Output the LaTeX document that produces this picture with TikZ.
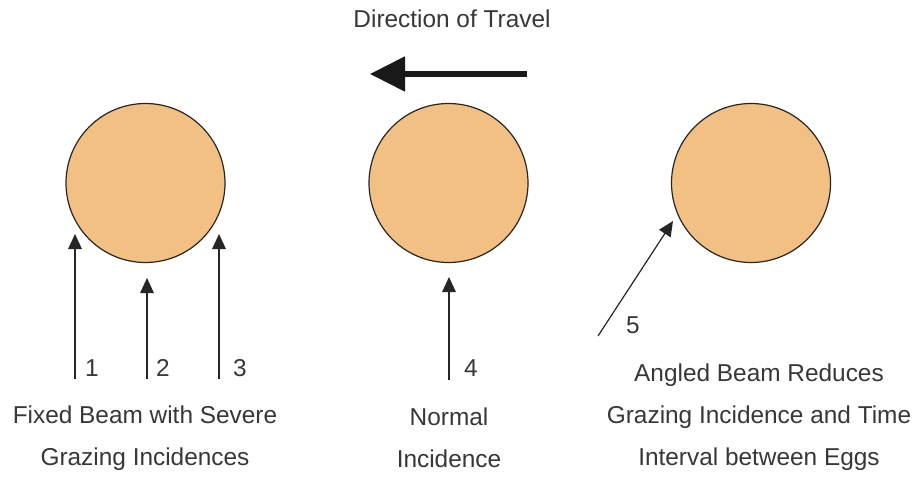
\documentclass[tikz,border=0pt]{standalone}
\usepackage{fontspec}
\setmainfont{Liberation Sans}
\usepackage{tikz}
\usetikzlibrary{arrows.meta,positioning}
\definecolor{eggfill}{RGB}{242,192,130}
\definecolor{inkgray}{RGB}{55,55,55}

\begin{document}
\begin{tikzpicture}[x=0.5pt, y=-0.5pt,
  egg/.style={circle, draw=black!85, line width=0.6pt, fill=eggfill, minimum size=79.5pt, inner sep=0pt},
  beam/.style={draw=black!85, line width=0.6pt, -{Triangle[length=7.5pt,width=6.8pt]}},
  travel/.style={draw=black!90, line width=2.6pt, -{Triangle[length=17.5pt,width=17pt]}},
  num/.style={font=\fontsize{12.2pt}{14pt}\selectfont, text=inkgray, inner sep=1pt},
  caption/.style={font=\fontsize{12.2pt}{21pt}\selectfont, text=inkgray, align=center, inner sep=0pt}]
  \useasboundingbox (0,0) rectangle (919,476);
  % title and direction arrow
  \node[num] (title) at (452,19) {Direction of Travel};
  \coordinate (dstart) at (527,74);
  \coordinate (dend) at (370,74);
  \draw[travel] (dstart) -- (dend);
  % the three eggs
  \node[egg] (egga) at (145.5,183) {};
  \node[egg] (eggb) at (448.5,183) {};
  \node[egg] (eggc) at (751,183) {};
  % fixed beams 1-3
  \coordinate (b1) at (75,379);  \coordinate (t1) at (75,234);
  \coordinate (b2) at (147,379); \coordinate (t2) at (147,278);
  \coordinate (b3) at (219,379); \coordinate (t3) at (219,234);
  \draw[beam] (b1) -- (t1);
  \draw[beam] (b2) -- (t2);
  \draw[beam] (b3) -- (t3);
  \node[num] (n1) at (92,368) {1};
  \node[num] (n2) at (163,368) {2};
  \node[num] (n3) at (240,368) {3};
  % normal beam 4
  \coordinate (b4) at (449,380); \coordinate (t4) at (449,277);
  \draw[beam] (b4) -- (t4);
  \node[num] (n4) at (471,368) {4};
  % angled beam 5
  \coordinate (b5) at (598,336); \coordinate (t5) at (673,221);
  \draw[beam] (b5) -- (t5);
  \node[num] (n5) at (633,325) {5};
  % captions
  \node[caption] (capa) at (145,438) {Fixed Beam with Severe\\Grazing Incidences};
  \node[caption] (capb) at (449,438) {Normal\\Incidence};
  \node[caption] (capc) at (759,417) {Angled Beam Reduces\\Grazing Incidence and Time\\Interval between Eggs};
\end{tikzpicture}
\end{document}
